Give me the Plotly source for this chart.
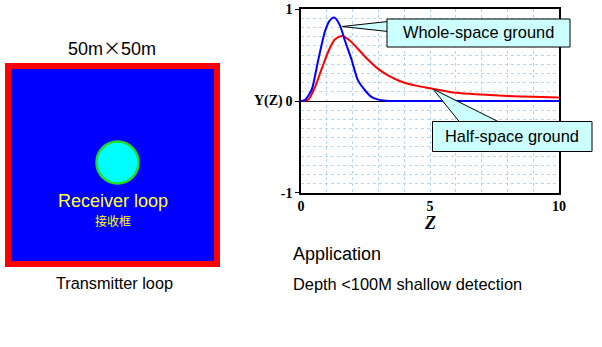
import plotly.graph_objects as go

# Response curves Y(Z) for the two ground models
z_whole = [0, 0.15, 0.41, 0.67, 0.93, 1.12, 1.29, 1.5, 1.7, 1.96, 2.2, 2.47, 2.73, 3.0, 3.3, 3.7, 4.5, 6, 8, 10]
y_whole = [0, 0.01, 0.12, 0.45, 0.76, 0.88, 0.91, 0.83, 0.66, 0.45, 0.23, 0.12, 0.045, 0.015, 0.004, 0.0, 0.0, 0.0, 0.0, 0.0]

z_half = [0, 0.28, 0.54, 0.8, 1.06, 1.31, 1.61, 1.89, 2.2, 2.6, 2.99, 3.37, 3.9, 4.5, 5, 6, 7, 8, 9, 10]
y_half = [0, 0.015, 0.15, 0.35, 0.54, 0.67, 0.71, 0.66, 0.57, 0.45, 0.35, 0.28, 0.21, 0.165, 0.14, 0.09, 0.07, 0.055, 0.045, 0.037]

x_ticks = [0, 5, 10]
y_ticks = [-1, 0, 1]

W, H = 602, 347
FONT = "Liberation Sans, Arial, sans-serif"
SERIF = "Liberation Serif, Times New Roman, serif"
CJK = "Noto Sans CJK SC"


def px(x):
    return x / W


def py(y):
    return 1 - y / H


fig = go.Figure()
fig.add_trace(go.Scatter(x=z_half, y=y_half, mode="lines",
                         line=dict(color="#ff0000", width=2, shape="spline", smoothing=0.8),
                         name="Half-space ground", hoverinfo="skip"))
fig.add_trace(go.Scatter(x=z_whole, y=y_whole, mode="lines",
                         line=dict(color="#0000ff", width=2, shape="spline", smoothing=0.7),
                         name="Whole-space ground", hoverinfo="skip"))

grid = dict(showgrid=True, gridcolor="#b5d7f2", griddash="dot", gridwidth=1)

fig.update_xaxes(range=[0, 10], domain=[px(301), px(559)], tickvals=x_ticks,
                 ticktext=[f"<b>{v}</b>" for v in x_ticks],
                 tickfont=dict(family=SERIF, size=14, color="black"),
                 showline=True, linecolor="black", linewidth=1.5, mirror=True,
                 zeroline=False, ticks="", automargin=False, **grid,
                 minor=dict(dtick=1, showgrid=True, gridcolor="#b5d7f2", griddash="dot"))
fig.update_yaxes(range=[-1, 1], domain=[py(192.7), py(9.3)], tickvals=y_ticks,
                 ticktext=[f"<b>{v}</b>" for v in y_ticks],
                 tickfont=dict(family=SERIF, size=14, color="black"),
                 showline=True, linecolor="black", linewidth=1.5, mirror=True,
                 zeroline=True, zerolinecolor="black", zerolinewidth=1.2,
                 ticks="outside", ticklen=4, tickcolor="black", automargin=False, **grid,
                 minor=dict(dtick=0.1, showgrid=True, gridcolor="#b5d7f2", griddash="dot"))

shapes = []
annotations = []


def label(text, x, y, size, color="black", family=FONT, xanchor="center", xref="paper", yref="paper"):
    annotations.append(dict(text=text, x=x, y=y, xref=xref, yref=yref, showarrow=False,
                            xanchor=xanchor, yanchor="middle",
                            font=dict(family=family, size=size, color=color)))


# Transmitter loop: red frame with blue interior, receiver loop circle in the middle
shapes.append(dict(type="rect", xref="paper", yref="paper", x0=px(5), x1=px(220), y0=py(267), y1=py(63),
                   fillcolor="#ff0000", line=dict(width=0), layer="below"))
shapes.append(dict(type="rect", xref="paper", yref="paper", x0=px(11), x1=px(214), y0=py(261), y1=py(69),
                   fillcolor="#0000ff", line=dict(width=0), layer="below"))
shapes.append(dict(type="circle", xref="paper", yref="paper", x0=px(96.5), x1=px(138.5), y0=py(183.5), y1=py(141.5),
                   fillcolor="#00ffff", line=dict(color="#22dd22", width=2.5), layer="below"))

label(f"50m<span style='font-family:{CJK}'>×</span>50m", px(112), py(47), 18)
label("Receiver loop", px(113), py(201), 18, color="#ffff33")
label("接收框", px(113), py(220), 12, color="#ffff00", family=CJK)
label("Transmitter loop", px(114), py(283), 16.3)
label("Application", px(291), py(254), 18, xanchor="left")
label("Depth <100M shallow detection", px(291), py(284), 16.4, xanchor="left")
label("<b>Y(Z)</b>", px(285), 0, 14, family=SERIF, xanchor="right", yref="y")
label("<b><i>Z</i></b>", 5, py(223), 18, family=SERIF, xref="x")

# Callout boxes with wedge pointers
callout_fill = "#ccffff"


def wedge(tip, b1, b2):
    return (f"M {px(tip[0])},{py(tip[1])} L {px(b1[0])},{py(b1[1])} "
            f"L {px(b2[0])},{py(b2[1])} Z")


shapes.append(dict(type="path", xref="paper", yref="paper", path=wedge((342, 26.5), (388, 21.5), (388, 31.5)),
                   fillcolor=callout_fill, line=dict(color="black", width=1)))
shapes.append(dict(type="rect", xref="paper", yref="paper", x0=px(387), x1=px(570), y0=py(47), y1=py(19),
                   fillcolor=callout_fill, line=dict(color="black", width=1)))
shapes.append(dict(type="path", xref="paper", yref="paper", path=wedge((433, 89), (460, 122.5), (500, 122.5)),
                   fillcolor=callout_fill, line=dict(color="black", width=1)))
shapes.append(dict(type="rect", xref="paper", yref="paper", x0=px(432.5), x1=px(592), y0=py(151.5), y1=py(121.5),
                   fillcolor=callout_fill, line=dict(color="black", width=1)))
# cover pointer bases so the wedges merge into the boxes
shapes.append(dict(type="rect", xref="paper", yref="paper", x0=px(388), x1=px(392), y0=py(31), y1=py(22),
                   fillcolor=callout_fill, line=dict(width=0)))
shapes.append(dict(type="rect", xref="paper", yref="paper", x0=px(460.5), x1=px(499.5), y0=py(125), y1=py(122),
                   fillcolor=callout_fill, line=dict(width=0)))

label("Whole-space ground", px(478.5), py(32), 16.4)
label("Half-space ground", px(512), py(136), 16.4)

fig.update_layout(width=W, height=H, margin=dict(l=0, r=0, t=0, b=0),
                  paper_bgcolor="white", plot_bgcolor="white", showlegend=False,
                  shapes=shapes, annotations=annotations)

fig.write_html("out.html")
